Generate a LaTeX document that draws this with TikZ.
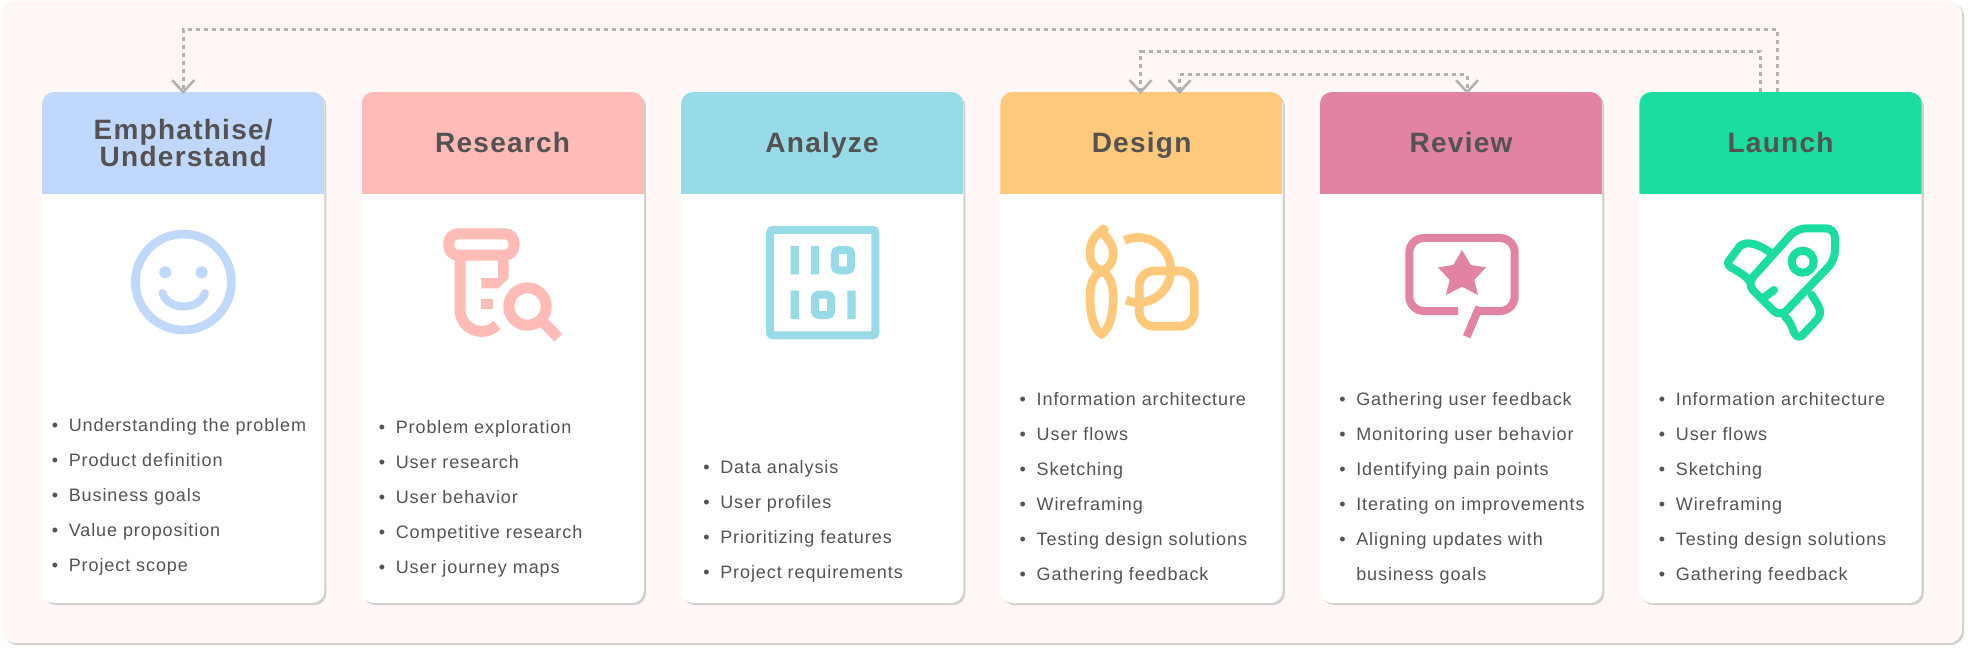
\documentclass[tikz,border=0pt]{standalone}
\usepackage{fontspec}
\setmainfont{Liberation Sans}
\newfontfamily\titlefont[LetterSpace=4.5]{Liberation Sans}
\newfontfamily\itemfont[LetterSpace=5.1]{Liberation Sans}
\usetikzlibrary{arrows.meta,positioning,shadows}
\definecolor{panelbg}{HTML}{FFF8F7}
\definecolor{softshadow}{HTML}{D3CFCF}
\definecolor{inktext}{HTML}{545252}
\definecolor{loopgray}{HTML}{B3B0B0}
\definecolor{headblue}{HTML}{BFD8FB}
\definecolor{headpink}{HTML}{FFBBB6}
\definecolor{headteal}{HTML}{98DBE8}
\definecolor{headorange}{HTML}{FEC97B}
\definecolor{headrose}{HTML}{E283A4}
\definecolor{headgreen}{HTML}{1BDD9F}
\newcommand{\itemdot}{\makebox[12.75pt][l]{\textbullet}}
\newcommand{\itemgap}{\makebox[12.75pt][l]{}}
\tikzset{
    %Define style for the background
    panel/.style={
           rectangle,
           rounded corners=10pt,
           fill=panelbg,
           inner sep=0pt,
           outer sep=0pt,
           minimum width=1470pt,
           minimum height=481.5pt,
           drop shadow={shadow xshift=1.5pt,shadow yshift=-1.5pt,fill=softshadow,opacity=1}},
    %Define style for cards, the argument is the colour of the head
    card/.style={
           rectangle,
           rounded corners=9pt,
           fill=white,
           inner sep=0pt,
           outer sep=0pt,
           minimum width=211.7pt,
           minimum height=383.25pt,
           drop shadow={shadow xshift=1.6pt,shadow yshift=-1.6pt,fill=softshadow,opacity=1},
           path picture={\fill[#1,sharp corners] (path picture bounding box.north west) rectangle
                ([yshift=-76.3pt]path picture bounding box.north east);}},
    cardtitle/.style={
           anchor=base,
           inner sep=0pt,
           align=center,
           text=inktext,
           font=\titlefont\bfseries\fontsize{21}{20.8}\selectfont},
    itemlist/.style={
           anchor=base west,
           inner sep=0pt,
           align=left,
           text=inktext,
           font=\itemfont\fontsize{13.5}{26.25}\selectfont},
    % Define connector style
    loopline/.style={
           draw=loopgray,
           line width=2.25pt,
           dash pattern=on 3pt off 3pt,
           arrows={-Straight Barb[length=9pt,width=16.5pt,line width=1.9pt]}},
    % Define icon style
    icon/.style={line width=6pt},
    iconthick/.style={line width=8.25pt}
}

\begin{document}
\begin{tikzpicture}[x=0.75pt,y=-0.75pt,node distance=27.9pt]
\useasboundingbox (0,0) rectangle (1968,649);
\node[panel](bg) at (982,322){};
% cards
\node[card=headblue](card1) at (183.2,347.5){};
\node[card=headpink, right=of card1](card2){};
\node[card=headteal, right=of card2](card3){};
\node[card=headorange, right=of card3](card4){};
\node[card=headrose, right=of card4](card5){};
\node[card=headgreen, right=of card5](card6){};
% titles
\node[cardtitle] (title1) at ([yshift=-56.2pt]card1.north) {Emphathise/\\Understand};
\node[cardtitle] (title2) at ([yshift=-45.5pt]card2.north) {Research};
\node[cardtitle] (title3) at ([yshift=-45.5pt]card3.north) {Analyze};
\node[cardtitle] (title4) at ([yshift=-45.5pt]card4.north) {Design};
\node[cardtitle] (title5) at ([yshift=-45.5pt]card5.north) {Review};
\node[cardtitle] (title6) at ([yshift=-45.5pt]card6.north) {Launch};
% lists
\node[itemlist] (list1) at (51.5,571) {\itemdot Understanding the problem\\\itemdot Product definition\\\itemdot Business goals\\\itemdot Value proposition\\\itemdot Project scope};
\node[itemlist] (list2) at (378.5,573.7) {\itemdot Problem exploration\\\itemdot User research\\\itemdot User behavior\\\itemdot Competitive research\\\itemdot User journey maps};
\node[itemlist] (list3) at (703,578.7) {\itemdot Data analysis\\\itemdot User profiles\\\itemdot Prioritizing features\\\itemdot Project requirements};
\node[itemlist] (list4) at (1019.4,580.5) {\itemdot Information architecture\\\itemdot User flows\\\itemdot Sketching\\\itemdot Wireframing\\\itemdot Testing design solutions\\\itemdot Gathering feedback};
\node[itemlist] (list5) at (1339,580.5) {\itemdot Gathering user feedback\\\itemdot Monitoring user behavior\\\itemdot Identifying pain points\\\itemdot Iterating on improvements\\\itemdot Aligning updates with\\\itemgap business goals};
\node[itemlist] (list6) at (1658.6,580.5) {\itemdot Information architecture\\\itemdot User flows\\\itemdot Sketching\\\itemdot Wireframing\\\itemdot Testing design solutions\\\itemdot Gathering feedback};
% connectors
\coordinate (launchfar) at ([xshift=-2.5pt]card6.north);
\coordinate (launchnear) at ([xshift=-15pt]card6.north);
\coordinate (emphin) at ([yshift=-1.5pt]card1.north);
\coordinate (designleft) at ([xshift=-.75pt,yshift=-1.5pt]card4.north);
\coordinate (designright) at ([xshift=28.5pt,yshift=-1.5pt]card4.north);
\coordinate (reviewin) at ([xshift=4.5pt,yshift=-1.5pt]card5.north);
\draw[loopline] (launchfar) -- (launchfar |- 0,29.7) -- (emphin |- 0,29.7) -- (emphin);
\draw[loopline] (launchnear) -- (launchnear |- 0,52) -- (designleft |- 0,52) -- (designleft);
\draw[loopline,arrows={Straight Barb[length=9pt,width=16.5pt,line width=1.9pt]-Straight Barb[length=9pt,width=16.5pt,line width=1.9pt]}]
    (designright) -- (designright |- 0,75) -- (reviewin |- 0,75) -- (reviewin);
% smile icon
\draw[icon,headblue,line width=6.5pt] (183.4,282) circle[radius=48];
\fill[headblue] (165.2,272.3) circle[radius=6] (201.6,272.3) circle[radius=6];
\draw[icon,headblue,line cap=round] (162.6,293) .. controls (168,311) and (199,311) .. (205,293);
% research icon
\draw[iconthick,headpink,rounded corners=7pt] (448.8,233.8) rectangle (514,255.2);
\draw[iconthick,headpink] (460,258) -- (460,309.7) arc[start angle=180,end angle=45,radius=21.7];
\fill[headpink] (498,260) -- (508.7,260) -- (508.7,278.3) -- (498,288.3) -- (481.3,288.3) -- (481.3,278) -- (498,278) -- cycle;
\fill[headpink] (481.3,299) rectangle (492.7,309.3);
\fill[white] (527.5,306.5) circle[radius=28];
\draw[iconthick,headpink] (527.5,306.5) circle[radius=18.7];
\draw[iconthick,headpink] (543.3,322.3) -- (558.3,337.7);
% analyze icon
\draw[icon,headteal,rounded corners=2pt] (770.2,230) rectangle (875.4,335.3);
\fill[headteal] (790.5,246) rectangle (798.8,274.3) (810.9,246) rectangle (819.1,274.3);
\draw[icon,headteal,rounded corners=3pt] (834.8,250) rectangle (851.2,270.3);
\fill[headteal] (790.5,290.7) rectangle (798.8,319) (847.3,290.7) rectangle (855.6,319);
\draw[icon,headteal,rounded corners=3pt] (814.8,294.7) rectangle (831.2,315);
% design icon
\fill[headorange] (1103.3,230) circle[radius=5.5];
\draw[icon,headorange,line width=6.5pt,line join=round] (1102.7,230) .. controls (1094,236) and (1090,243) .. (1090,253)
    .. controls (1090,262) and (1094,269) .. (1101.7,270) .. controls (1109,269) and (1113.3,262) .. (1113.3,253)
    .. controls (1113.3,245) and (1108,239) .. (1104.5,235) -- cycle;
\draw[icon,headorange,line width=6.5pt] (1101.7,271) .. controls (1093,275) and (1090,285) .. (1090,297)
    .. controls (1090,315) and (1094,330) .. (1101.7,334) .. controls (1109,330) and (1113.3,315) .. (1113.3,297)
    .. controls (1113.3,285) and (1110,275) .. (1101.7,271) -- cycle;
\draw[icon,headorange,line width=6.5pt] (1138.3,270) ++(-115:32.5) arc[start angle=-115,end angle=112,radius=32.5];
\draw[icon,headorange,line width=6.5pt,rounded corners=11pt] (1139.3,271) rectangle (1194.3,326.3);
% review icon
\draw[icon,headrose,rounded corners=11pt] (1458,311) -- (1409.3,311) -- (1409.3,238) -- (1514.7,238) -- (1514.7,311) -- (1479.3,311);
\draw[icon,headrose] (1479.3,307) -- (1466.7,336.7);
\fill[headrose] (1462,250) -- (1470.7,265) -- (1486,267.3) -- (1474.3,280) -- (1478,295) -- (1462,286.7)
    -- (1446,295) -- (1449.7,280) -- (1438,267.3) -- (1453.3,265) -- cycle;
% launch icon
\draw[icon,headgreen,rounded corners=7pt] (1796.7,228.3) -- (1835,228.3) -- (1835,260) -- (1780,317.3) -- (1746.7,284) -- cycle;
\draw[icon,headgreen] (1802.7,261.7) circle[radius=11];
\draw[icon,headgreen,line cap=round] (1763.3,298) -- (1774,290);
\draw[icon,headgreen,line cap=round,line join=round] (1771.7,253.3) .. controls (1760,245) and (1748,240) .. (1740,246)
    -- (1728.3,261.7) .. controls (1725,268) and (1742,270) .. (1750,281.7);
\draw[icon,headgreen,line cap=round,line join=round] (1811.7,295) .. controls (1820,308) and (1823,312) .. (1816.7,320)
    -- (1801.7,336) .. controls (1792,340) and (1795,325) .. (1785,316.7);
\end{tikzpicture}
\end{document}
